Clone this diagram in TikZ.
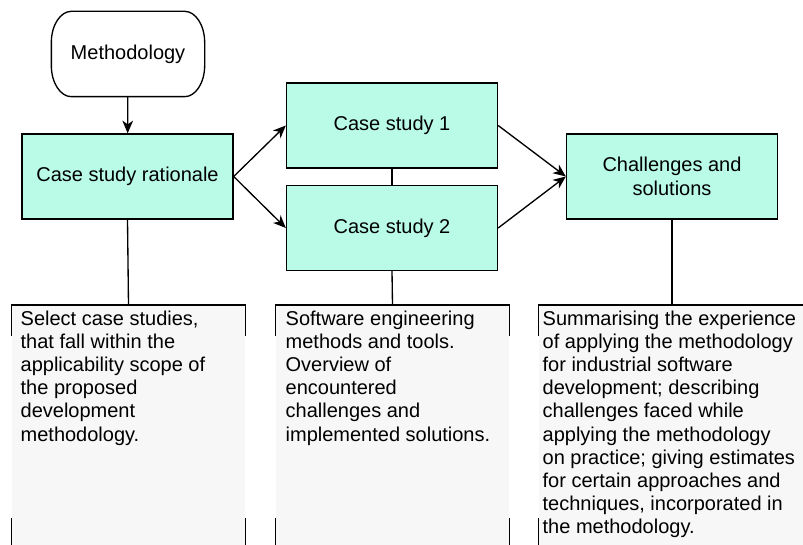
\documentclass[tikz,border=0pt]{standalone}
\usepackage{fontspec}
\setmainfont{Liberation Sans}
\usetikzlibrary{arrows.meta,backgrounds}
\definecolor{boxfill}{RGB}{185,251,231}
\definecolor{notefill}{RGB}{247,247,247}
\def\PX{0.75pt}
\tikzset{
  every picture/.style={line width=1pt},
  lbl/.style={font=\fontsize{15pt}{18pt}\selectfont, align=center},
  stepbox/.style={lbl, draw=black, fill=boxfill, minimum width=211*\PX, minimum height=85*\PX, inner sep=0pt},
  startbox/.style={lbl, minimum width=152*\PX, minimum height=84*\PX, inner sep=0pt},
  outline/.style={draw=black, fill=white, line width=1pt},
  note/.style={fill=notefill, minimum width=#1*\PX, minimum height=240*\PX, inner sep=0pt, anchor=north},
  notetext/.style={font=\fontsize{15pt}{17.4pt}\selectfont, align=left, anchor=north west, inner sep=0pt},
  flow/.style={-{Stealth[length=9.5pt,width=8pt,inset=2.8pt]}},
}
\newcommand\bracket[1]{%
  \draw ([yshift=-31*\PX]#1.north west) -- (#1.north west) -- (#1.north east) -- ([yshift=-31*\PX]#1.north east);
  \draw ([yshift=28*\PX]#1.south west) -- (#1.south west);
  \draw ([yshift=28*\PX]#1.south east) -- (#1.south east);}
\begin{document}
\begin{tikzpicture}[x=0.75pt,y=-0.75pt]
\useasboundingbox (0,0) rectangle (803,545);

% process boxes
\node[startbox] (meth) at (128,54) {Methodology};
% terminator outline with elliptical corners
\begin{scope}[on background layer]
\path[outline]
  ([xshift=20*\PX]meth.north west) -- ([xshift=-20*\PX]meth.north east)
  .. controls ([xshift=-9*\PX]meth.north east) and ([yshift=-14*\PX]meth.north east) .. ([yshift=-31*\PX]meth.north east)
  -- ([yshift=31*\PX]meth.south east)
  .. controls ([yshift=14*\PX]meth.south east) and ([xshift=-9*\PX]meth.south east) .. ([xshift=-20*\PX]meth.south east)
  -- ([xshift=20*\PX]meth.south west)
  .. controls ([xshift=9*\PX]meth.south west) and ([yshift=14*\PX]meth.south west) .. ([yshift=31*\PX]meth.south west)
  -- ([yshift=-31*\PX]meth.north west)
  .. controls ([yshift=-14*\PX]meth.north west) and ([xshift=9*\PX]meth.north west) .. ([xshift=20*\PX]meth.north west)
  -- cycle;
\end{scope}
\node[stepbox] (rat) at (127.5,176.5) {Case study rationale};
\node[stepbox] (cs1) at (392,125.5) {Case study 1};
\node[stepbox] (cs2) at (392,228) {Case study 2};
\node[stepbox] (ch) at (672,176.5) {Challenges and\\solutions};

% annotations
\begin{scope}
\clip (0,0) rectangle (803,545);
\node[note=233] (a1) at (128.5,305) {};
\node[note=233] (a2) at (392.5,305) {};
\node[note=266] (a3) at (672,305) {};
\bracket{a1}
\bracket{a2}
\draw (a3.north east) -- (a3.north west) -- ([yshift=-31*\PX]a3.north west);
\draw ([yshift=28*\PX]a3.south west) -- (a3.south west);
\end{scope}

\node[notetext] (t1) at (20,310) {Select case studies,\\that fall within the\\applicability scope of\\the proposed\\development\\methodology.};
\node[notetext] (t2) at (285,310) {Software engineering\\methods and tools.\\Overview of\\encountered\\challenges and\\implemented solutions.};
\node[notetext] (t3) at (542,310) {Summarising the experience\\of applying the methodology\\for industrial software\\development; describing\\challenges faced while\\applying the methodology\\on practice; giving estimates\\for certain approaches and\\techniques, incorporated in\\the methodology.};

% connectors
\draw[flow] (meth) -- (rat);
\draw[flow] (rat.east) -- (cs1.west);
\draw[flow] (rat.east) -- (cs2.west);
\draw (cs1) -- (cs2);
\draw[flow] (cs1.east) -- (ch.west);
\draw[flow] (cs2.east) -- (ch.west);
\draw (rat.south) -- (a1.north);
\draw (cs2.south) -- (a2.north);
\draw (ch.south) -- (a3.north);
\end{tikzpicture}
\end{document}
